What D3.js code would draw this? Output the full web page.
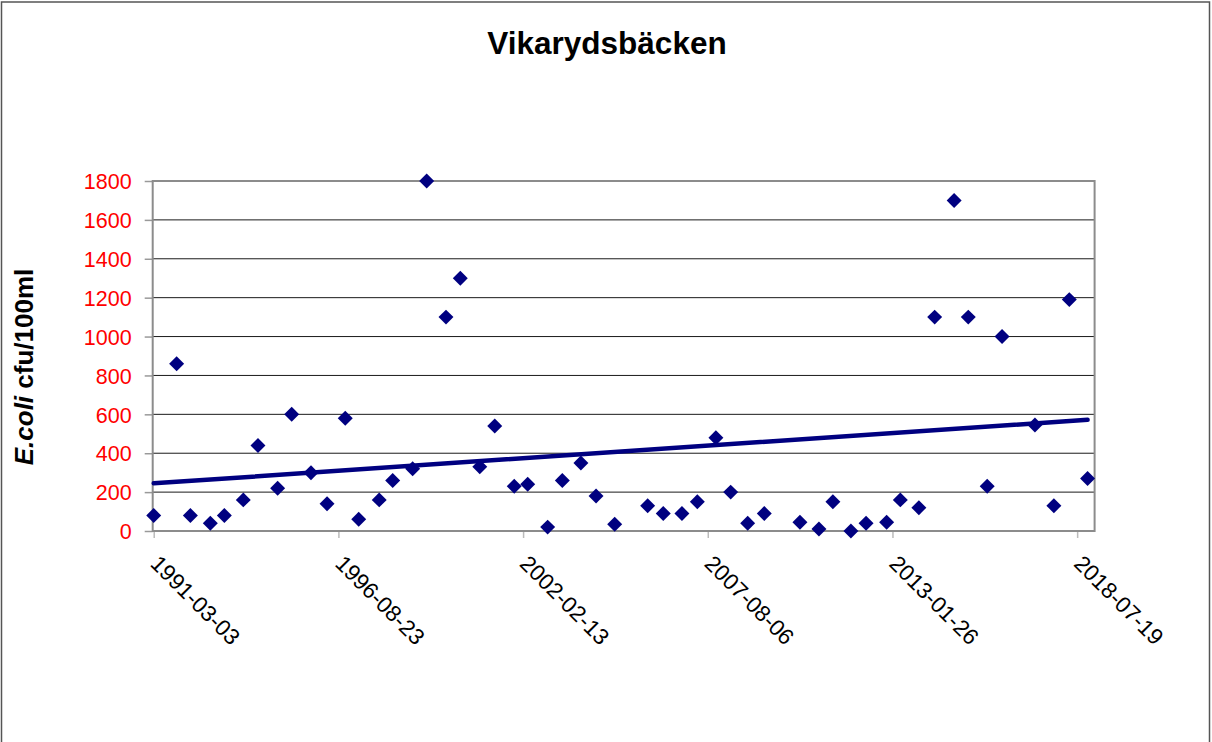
<!DOCTYPE html>
<html>
<head>
<meta charset="utf-8">
<script src="https://cdn.jsdelivr.net/npm/d3@7"></script>
<style>
  html, body { margin: 0; padding: 0; background: #fff; }
  svg { display: block; font-family: "Liberation Sans", Arial, sans-serif; }
</style>
</head>
<body>
<svg id="chart" width="1212" height="742"></svg>
<script>
// ---- data ----
const title = "Vikarydsbäcken";
const yTitleItalic = "E.coli";
const yTitleRest = " cfu/100ml";

const sampleDates = [
  "1991-03-03","1991-11-06","1992-04-03","1992-11-05","1993-04-06","1993-10-28",
  "1994-04-05","1994-11-04","1995-04-05","1995-10-31","1996-04-22","1996-11-05",
  "1997-03-31","1997-11-08","1998-04-03","1998-11-05","1999-04-06","1999-11-01",
  "2000-04-04","2000-11-01","2001-04-12","2001-11-09","2002-04-04","2002-11-06",
  "2003-04-14","2003-11-01","2004-04-13","2004-11-01","2005-10-24","2006-04-11",
  "2006-10-30","2007-04-15","2007-11-02","2008-04-10","2008-10-11","2009-04-09",
  "2010-04-30","2010-11-22","2011-04-22","2011-11-03","2012-04-15","2012-11-24",
  "2013-04-21","2013-11-08","2014-04-28","2014-11-25","2015-04-27","2015-11-18",
  "2016-04-27","2017-04-18","2017-11-09","2018-04-25","2018-11-09"
];
const ecoliValues = [
  80, 860, 80, 40, 80, 160,
  440, 220, 600, 300, 140, 580,
  60, 160, 260, 320, 1800, 1100,
  1300, 330, 540, 230, 240, 20,
  260, 350, 180, 35, 130, 90,
  90, 150, 480, 200, 40, 90,
  45, 10, 150, 0, 40, 45,
  160, 120, 1100, 1700, 1100, 230,
  1000, 545, 130, 1190, 270
];
// linear trendline end values as drawn in the picture
const trendDates = ["1991-03-03", "2018-11-09"];
const trendValues = [245, 572];

const xTickLabels = ["1991-03-03","1996-08-23","2002-02-13","2007-08-06","2013-01-26","2018-07-19"];
const xDomain = ["1991-02-20", "2019-01-24"];
const yTicks = [0, 200, 400, 600, 800, 1000, 1200, 1400, 1600, 1800];
const yDomain = [0, 1800];

// ---- layout ----
const parse = d3.timeParse("%Y-%m-%d");
const svg = d3.select("#chart");
const L = 152.7, R = 1094.6, T = 181, B = 531;

const x = d3.scaleTime().domain(xDomain.map(parse)).range([L, R]);
const y = d3.scaleLinear().domain(yDomain).range([B, T]);

// outer chart border
svg.append("rect").attr("x", 1.5).attr("y", 2).attr("width", 1208).attr("height", 800)
  .attr("fill", "none").attr("stroke", "#555").attr("stroke-width", 1.5);

// title
svg.append("text").attr("x", 607).attr("y", 54).attr("text-anchor", "middle")
  .attr("font-size", 31.5).attr("font-weight", "bold").attr("fill", "#000").text(title);

// gridlines
svg.append("g").selectAll("line").data(yTicks.filter(v => v > 0)).join("line")
  .attr("x1", L).attr("x2", R).attr("y1", d => y(d)).attr("y2", d => y(d))
  .attr("stroke", "#1a1a1a").attr("stroke-width", 1);

// y axis
const yAxis = d3.axisLeft(y).tickValues(yTicks).tickSize(8).tickPadding(13).tickFormat(d3.format("d"));
const gy = svg.append("g").attr("transform", `translate(${L},0)`).call(yAxis);
gy.select(".domain").remove();
gy.selectAll(".tick line").attr("stroke", "#999").attr("stroke-width", 1.5);
gy.selectAll(".tick text").attr("fill", "#ff0000").attr("font-size", 21.5)
  .attr("font-family", "Liberation Sans, Arial, sans-serif").attr("dy", "0.36em");

// x axis
const xTicks = xTickLabels.map(parse);
const xAxis = d3.axisBottom(x).tickValues(xTicks).tickSize(7).tickFormat(d3.timeFormat("%Y-%m-%d"));
const gx = svg.append("g").attr("transform", `translate(0,${B})`).call(xAxis);
gx.select(".domain").remove();
gx.selectAll(".tick line").attr("stroke", "#bbb").attr("stroke-width", 1.5);
gx.selectAll(".tick text")
  .attr("fill", "#000").attr("font-size", 22.5)
  .attr("font-family", "Liberation Sans, Arial, sans-serif")
  .attr("text-anchor", "start").attr("dy", null).attr("y", null)
  .attr("transform", "translate(-5,34) rotate(45)");

// plot border (gray)
svg.append("rect").attr("x", L).attr("y", T).attr("width", R - L).attr("height", B - T)
  .attr("fill", "none").attr("stroke", "#8c8c8c").attr("stroke-width", 2);

// trendline
const line = d3.line().x(d => x(parse(d[0]))).y(d => y(d[1]));
svg.append("path").datum(trendDates.map((d, i) => [d, trendValues[i]]))
  .attr("d", line).attr("fill", "none").attr("stroke", "#000080")
  .attr("stroke-width", 4.5).attr("stroke-linecap", "round");

// markers (diamonds)
const diamond = d3.symbol().type(d3.symbolSquare).size(112);
svg.append("g").selectAll("path").data(sampleDates.map((d, i) => [d, ecoliValues[i]])).join("path")
  .attr("d", diamond)
  .attr("transform", d => `translate(${x(parse(d[0]))},${y(d[1])}) rotate(45)`)
  .attr("fill", "#000080");

// y title
const yt = svg.append("text").attr("transform", "translate(32.5,367) rotate(-90)")
  .attr("text-anchor", "middle").attr("font-size", 26).attr("font-weight", "bold").attr("fill", "#000");
yt.append("tspan").attr("font-style", "italic").text(yTitleItalic);
yt.append("tspan").text(yTitleRest);
</script>
</body>
</html>
